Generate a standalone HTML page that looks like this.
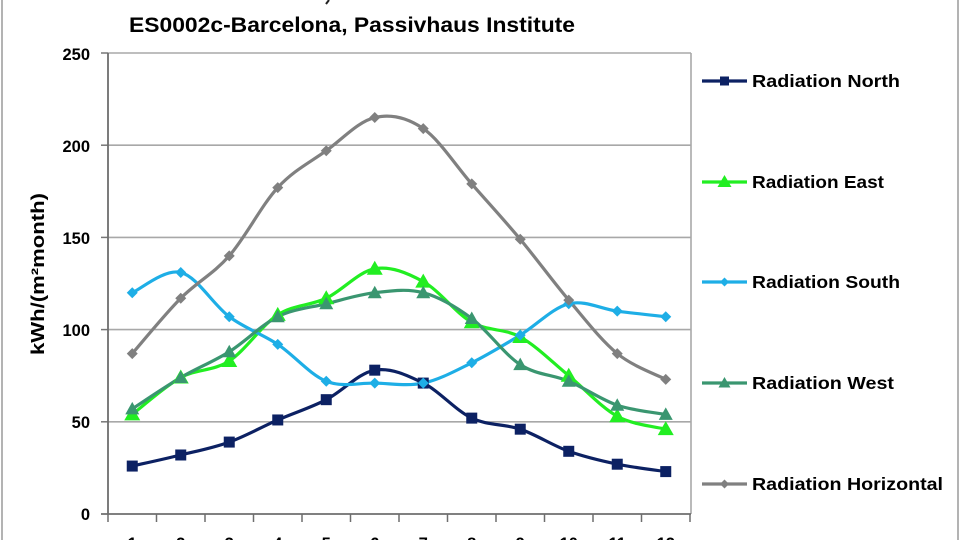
<!DOCTYPE html>
<html><head><meta charset="utf-8"><style>
html,body{margin:0;padding:0;background:#fff;width:960px;height:540px;overflow:hidden}
svg{display:block}
text{font-family:"Liberation Sans",Arial,sans-serif;font-weight:bold;fill:#000}
</style></head><body>
<svg width="960" height="540" viewBox="0 0 960 540" xmlns="http://www.w3.org/2000/svg">
<defs>
<rect id="sq" x="-5.5" y="-5.5" width="11" height="11" fill="#0c2163"/>
<polygon id="triE" points="0,-8 8,6 -8,6" fill="#22ee22"/>
<polygon id="triW" points="0,-7 7,5.5 -7,5.5" fill="#3a9670"/>
<polygon id="diS" points="0,-5.5 5.5,0 0,5.5 -5.5,0" fill="#1eaee6"/>
<polygon id="diH" points="0,-5.5 5.5,0 0,5.5 -5.5,0" fill="#808080"/>
<rect id="sqL" x="-4.5" y="-4.5" width="9" height="9" fill="#0c2163"/>
<polygon id="triEL" points="0,-7 7,5 -7,5" fill="#22ee22"/>
<polygon id="triWL" points="0,-6 6,4.5 -6,4.5" fill="#3a9670"/>
<polygon id="diSL" points="0,-4.5 4.5,0 0,4.5 -4.5,0" fill="#1eaee6"/>
<polygon id="diHL" points="0,-4.5 4.5,0 0,4.5 -4.5,0" fill="#808080"/>
</defs>

<!-- outer border -->
<line x1="2" y1="0" x2="2" y2="540" stroke="#9a9a9a" stroke-width="1.5"/>
<line x1="958" y1="0" x2="958" y2="540" stroke="#9a9a9a" stroke-width="1.5"/>

<!-- cut-off first title line mark -->
<path d="M326,4 L329,0" stroke="#222" stroke-width="2"/>

<!-- title -->
<text x="129" y="32" font-size="21" textLength="446" lengthAdjust="spacingAndGlyphs">ES0002c-Barcelona, Passivhaus Institute</text>

<!-- gridlines -->
<g stroke="#a8a8a8" stroke-width="1.6">
<line x1="108" y1="53" x2="691" y2="53"/>
<line x1="108" y1="145.2" x2="691" y2="145.2"/>
<line x1="108" y1="237.4" x2="691" y2="237.4"/>
<line x1="108" y1="329.6" x2="691" y2="329.6"/>
<line x1="108" y1="421.8" x2="691" y2="421.8"/>
<line x1="691" y1="53" x2="691" y2="514"/>
</g>
<!-- y ticks -->
<g stroke="#777" stroke-width="1.5">
<line x1="101" y1="53" x2="108" y2="53"/>
<line x1="101" y1="145.2" x2="108" y2="145.2"/>
<line x1="101" y1="237.4" x2="108" y2="237.4"/>
<line x1="101" y1="329.6" x2="108" y2="329.6"/>
<line x1="101" y1="421.8" x2="108" y2="421.8"/>
</g>
<!-- axes -->
<line x1="108" y1="53" x2="108" y2="514" stroke="#6e6e6e" stroke-width="1.8"/>
<line x1="101" y1="514" x2="691" y2="514" stroke="#6e6e6e" stroke-width="1.8"/>
<!-- x ticks -->
<g stroke="#6e6e6e" stroke-width="1.5">
<line x1="108" y1="514" x2="108" y2="522"/>
<line x1="156.5" y1="514" x2="156.5" y2="522"/>
<line x1="205" y1="514" x2="205" y2="522"/>
<line x1="253.5" y1="514" x2="253.5" y2="522"/>
<line x1="302" y1="514" x2="302" y2="522"/>
<line x1="350.5" y1="514" x2="350.5" y2="522"/>
<line x1="399" y1="514" x2="399" y2="522"/>
<line x1="447.5" y1="514" x2="447.5" y2="522"/>
<line x1="496" y1="514" x2="496" y2="522"/>
<line x1="544.5" y1="514" x2="544.5" y2="522"/>
<line x1="593" y1="514" x2="593" y2="522"/>
<line x1="641.5" y1="514" x2="641.5" y2="522"/>
<line x1="690" y1="514" x2="690" y2="522"/>
</g>

<!-- y tick labels -->
<g font-size="16.5" text-anchor="end">
<text x="90" y="60">250</text>
<text x="90" y="152">200</text>
<text x="90" y="244">150</text>
<text x="90" y="336">100</text>
<text x="90" y="428">50</text>
<text x="90" y="520">0</text>
</g>
<!-- x tick labels -->
<g font-size="16.5" text-anchor="middle">
<text x="132.25" y="549">1</text>
<text x="180.75" y="549">2</text>
<text x="229.25" y="549">3</text>
<text x="277.75" y="549">4</text>
<text x="326.25" y="549">5</text>
<text x="374.75" y="549">6</text>
<text x="423.25" y="549">7</text>
<text x="471.75" y="549">8</text>
<text x="520.25" y="549">9</text>
<text x="568.75" y="549">10</text>
<text x="617.25" y="549">11</text>
<text x="665.75" y="549">12</text>
</g>
<!-- y axis title -->
<text x="44" y="274" font-size="18" text-anchor="middle" transform="rotate(-90 44 274)" textLength="162" lengthAdjust="spacingAndGlyphs">kWh/(m²month)</text>

<!-- series lines -->
<g transform="translate(132.25,514) scale(48.5,-1.844)" fill="none" stroke-linejoin="round" stroke-linecap="round">
<path vector-effect="non-scaling-stroke" stroke="#0c2163" stroke-width="3.2" d="M0,26 C0.1667,27 0.6667,29.833 1,32 C1.3333,34.167 1.6667,35.833 2,39 C2.3333,42.167 2.6667,47.167 3,51 C3.3333,54.833 3.6667,57.5 4,62 C4.3333,66.5 4.6667,76.5 5,78 C5.3333,79.5 5.6667,75.333 6,71 C6.3333,66.667 6.6667,56.167 7,52 C7.3333,47.833 7.6667,49 8,46 C8.3333,43 8.6667,37.167 9,34 C9.3333,30.833 9.6667,28.833 10,27 C10.3333,25.167 10.8333,23.667 11,23"/>
<path vector-effect="non-scaling-stroke" stroke="#22ee22" stroke-width="3.2" d="M0,54 C0.1667,57.333 0.6667,69.167 1,74 C1.3333,78.833 1.6667,77.333 2,83 C2.3333,88.667 2.6667,102.333 3,108 C3.3333,113.667 3.6667,112.833 4,117 C4.3333,121.167 4.6667,131.5 5,133 C5.3333,134.5 5.6667,130.833 6,126 C6.3333,121.167 6.6667,109 7,104 C7.3333,99 7.6667,100.833 8,96 C8.3333,91.167 8.6667,82.167 9,75 C9.3333,67.833 9.6667,57.833 10,53 C10.3333,48.167 10.8333,47.167 11,46"/>
<path vector-effect="non-scaling-stroke" stroke="#1eaee6" stroke-width="3.2" d="M0,120 C0.1667,121.833 0.6667,133.167 1,131 C1.3333,128.833 1.6667,113.5 2,107 C2.3333,100.5 2.6667,97.833 3,92 C3.3333,86.167 3.6667,75.5 4,72 C4.3333,68.5 4.6667,71.167 5,71 C5.3333,70.833 5.6667,69.167 6,71 C6.3333,72.833 6.6667,77.667 7,82 C7.3333,86.333 7.6667,91.667 8,97 C8.3333,102.333 8.6667,111.833 9,114 C9.3333,116.167 9.6667,111.167 10,110 C10.3333,108.833 10.8333,107.5 11,107"/>
<path vector-effect="non-scaling-stroke" stroke="#3a9670" stroke-width="3.2" d="M0,57 C0.1667,59.833 0.6667,68.833 1,74 C1.3333,79.167 1.6667,82.5 2,88 C2.3333,93.5 2.6667,102.667 3,107 C3.3333,111.333 3.6667,111.833 4,114 C4.3333,116.167 4.6667,119 5,120 C5.3333,121 5.6667,122.333 6,120 C6.3333,117.667 6.6667,112.5 7,106 C7.3333,99.5 7.6667,86.667 8,81 C8.3333,75.333 8.6667,75.667 9,72 C9.3333,68.333 9.6667,62 10,59 C10.3333,56 10.8333,54.833 11,54"/>
<path vector-effect="non-scaling-stroke" stroke="#808080" stroke-width="3.2" d="M0,87 C0.1667,92 0.6667,108.167 1,117 C1.3333,125.833 1.6667,130 2,140 C2.3333,150 2.6667,167.5 3,177 C3.3333,186.5 3.6667,190.667 4,197 C4.3333,203.333 4.6667,213 5,215 C5.3333,217 5.6667,215 6,209 C6.3333,203 6.6667,189 7,179 C7.3333,169 7.6667,159.5 8,149 C8.3333,138.5 8.6667,126.333 9,116 C9.3333,105.667 9.6667,94.167 10,87 C10.3333,79.833 10.8333,75.333 11,73"/>
</g>

<!-- markers North -->
<g>
<use href="#sq" x="132.25" y="466.06"/><use href="#sq" x="180.75" y="454.99"/><use href="#sq" x="229.25" y="442.08"/><use href="#sq" x="277.75" y="419.96"/><use href="#sq" x="326.25" y="399.67"/><use href="#sq" x="374.75" y="370.17"/><use href="#sq" x="423.25" y="383.08"/><use href="#sq" x="471.75" y="418.11"/><use href="#sq" x="520.25" y="429.18"/><use href="#sq" x="568.75" y="451.3"/><use href="#sq" x="617.25" y="464.21"/><use href="#sq" x="665.75" y="471.59"/>
</g>
<!-- markers East -->
<g>
<use href="#triE" x="132.25" y="414.42"/><use href="#triE" x="180.75" y="377.54"/><use href="#triE" x="229.25" y="360.95"/><use href="#triE" x="277.75" y="314.85"/><use href="#triE" x="326.25" y="298.25"/><use href="#triE" x="374.75" y="268.75"/><use href="#triE" x="423.25" y="281.66"/><use href="#triE" x="471.75" y="322.22"/><use href="#triE" x="520.25" y="336.98"/><use href="#triE" x="568.75" y="375.7"/><use href="#triE" x="617.25" y="416.27"/><use href="#triE" x="665.75" y="429.18"/>
</g>
<!-- markers South -->
<g>
<use href="#diS" x="132.25" y="292.72"/><use href="#diS" x="180.75" y="272.44"/><use href="#diS" x="229.25" y="316.69"/><use href="#diS" x="277.75" y="344.35"/><use href="#diS" x="326.25" y="381.23"/><use href="#diS" x="374.75" y="383.08"/><use href="#diS" x="423.25" y="383.08"/><use href="#diS" x="471.75" y="362.79"/><use href="#diS" x="520.25" y="335.13"/><use href="#diS" x="568.75" y="303.78"/><use href="#diS" x="617.25" y="311.16"/><use href="#diS" x="665.75" y="316.69"/>
</g>
<!-- markers West -->
<g>
<use href="#triW" x="132.25" y="408.89"/><use href="#triW" x="180.75" y="377.54"/><use href="#triW" x="229.25" y="351.73"/><use href="#triW" x="277.75" y="316.69"/><use href="#triW" x="326.25" y="303.78"/><use href="#triW" x="374.75" y="292.72"/><use href="#triW" x="423.25" y="292.72"/><use href="#triW" x="471.75" y="318.54"/><use href="#triW" x="520.25" y="364.64"/><use href="#triW" x="568.75" y="381.23"/><use href="#triW" x="617.25" y="405.2"/><use href="#triW" x="665.75" y="414.42"/>
</g>
<!-- markers Horizontal -->
<g>
<use href="#diH" x="132.25" y="353.57"/><use href="#diH" x="180.75" y="298.25"/><use href="#diH" x="229.25" y="255.84"/><use href="#diH" x="277.75" y="187.61"/><use href="#diH" x="326.25" y="150.73"/><use href="#diH" x="374.75" y="117.54"/><use href="#diH" x="423.25" y="128.6"/><use href="#diH" x="471.75" y="183.92"/><use href="#diH" x="520.25" y="239.24"/><use href="#diH" x="568.75" y="300.1"/><use href="#diH" x="617.25" y="353.57"/><use href="#diH" x="665.75" y="379.39"/>
</g>

<!-- legend -->
<g stroke-width="3.2">
<line x1="702" y1="81" x2="747" y2="81" stroke="#0c2163"/>
<line x1="702" y1="182" x2="747" y2="182" stroke="#22ee22"/>
<line x1="702" y1="282" x2="747" y2="282" stroke="#1eaee6"/>
<line x1="702" y1="383" x2="747" y2="383" stroke="#3a9670"/>
<line x1="702" y1="484" x2="747" y2="484" stroke="#808080"/>
</g>
<use href="#sqL" x="724.5" y="81"/>
<use href="#triEL" x="724.5" y="182"/>
<use href="#diSL" x="724.5" y="282"/>
<use href="#triWL" x="724.5" y="383"/>
<use href="#diHL" x="724.5" y="484"/>
<g font-size="17.5">
<text x="752" y="87" textLength="148" lengthAdjust="spacingAndGlyphs">Radiation North</text>
<text x="752" y="188" textLength="132" lengthAdjust="spacingAndGlyphs">Radiation East</text>
<text x="752" y="288" textLength="148" lengthAdjust="spacingAndGlyphs">Radiation South</text>
<text x="752" y="389" textLength="142" lengthAdjust="spacingAndGlyphs">Radiation West</text>
<text x="752" y="490" textLength="191" lengthAdjust="spacingAndGlyphs">Radiation Horizontal</text>
</g>
</svg>
</body></html>
